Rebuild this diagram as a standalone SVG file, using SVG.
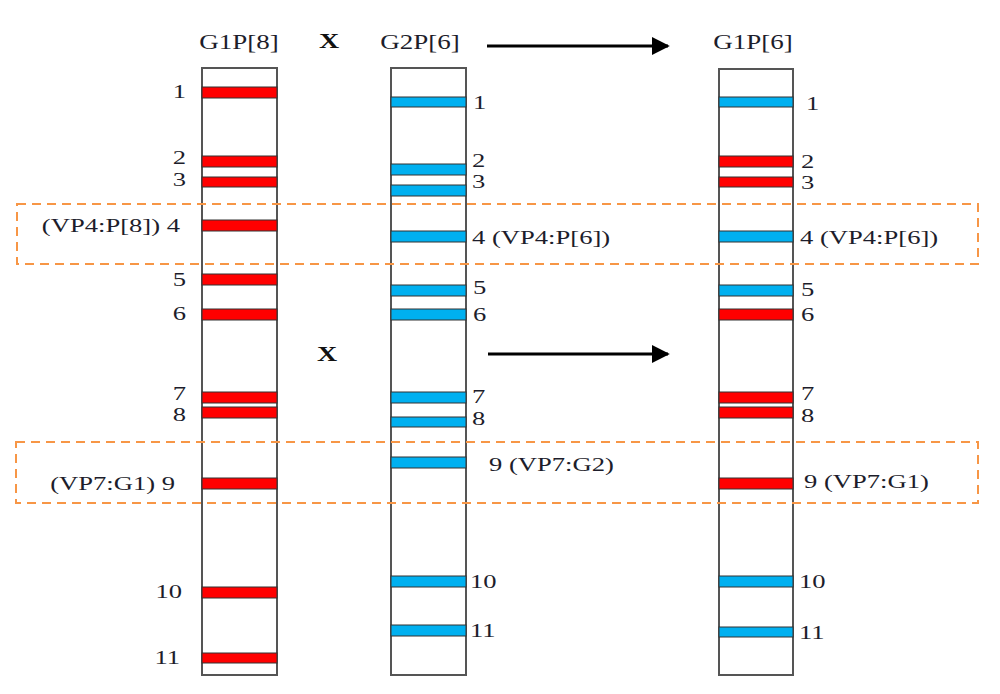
<svg xmlns="http://www.w3.org/2000/svg" width="1000" height="694" viewBox="0 0 1000 694">
<defs>
<style>
.t{font-family:"Liberation Serif","Times New Roman",serif;font-size:19px;fill:#1d1d2b}
.h{font-family:"Liberation Serif","Times New Roman",serif;font-size:20px;fill:#1d1d2b}
.x{font-family:"Liberation Serif","Times New Roman",serif;font-size:20px;font-weight:bold;fill:#111}
.e{text-anchor:end}
.m{text-anchor:middle}
.col{fill:#fff;stroke:#555;stroke-width:2}
.r{fill:#ff0000;stroke:#333;stroke-width:1}
.b{fill:#00b0f0;stroke:#333;stroke-width:1}
.d{fill:none;stroke:#f79646;stroke-width:2;stroke-dasharray:9,6}
.a{stroke:#000;stroke-width:3;fill:none}
</style>
<marker id="ah" viewBox="0 0 10 10" refX="9" refY="5" markerWidth="6" markerHeight="6" markerUnits="strokeWidth" orient="auto"><path d="M0,0 L10,5 L0,10 z" fill="#000"/></marker>
</defs>
<g id="col1">
<rect class="col" x="202" y="68" width="75" height="607"/>
<rect class="r" x="202" y="87" width="75" height="11"/>
<rect class="r" x="202" y="156" width="75" height="11"/>
<rect class="r" x="202" y="177" width="75" height="10"/>
<rect class="r" x="202" y="220" width="75" height="11"/>
<rect class="r" x="202" y="274" width="75" height="11"/>
<rect class="r" x="202" y="309" width="75" height="11"/>
<rect class="r" x="202" y="392" width="75" height="11"/>
<rect class="r" x="202" y="407" width="75" height="11"/>
<rect class="r" x="202" y="478" width="75" height="11"/>
<rect class="r" x="202" y="587" width="75" height="11"/>
<rect class="r" x="202" y="653" width="75" height="10"/>
<text class="t e" transform="translate(186 98) scale(1.4 1)">1</text>
<text class="t e" transform="translate(186 164) scale(1.4 1)">2</text>
<text class="t e" transform="translate(186 186) scale(1.4 1)">3</text>
<text class="t e" transform="translate(180 232) scale(1.4 1)">(VP4:P[8]) 4</text>
<text class="t e" transform="translate(186 286) scale(1.4 1)">5</text>
<text class="t e" transform="translate(186 320) scale(1.4 1)">6</text>
<text class="t e" transform="translate(186 400) scale(1.4 1)">7</text>
<text class="t e" transform="translate(186 421) scale(1.4 1)">8</text>
<text class="t e" transform="translate(175 490) scale(1.4 1)">(VP7:G1)  9</text>
<text class="t e" transform="translate(182 598) scale(1.4 1)">10</text>
<text class="t e" transform="translate(180 664) scale(1.4 1)">11</text>
<text class="h m" transform="translate(239 49) scale(1.35 1)">G1P[8]</text>
</g>
<g id="col2">
<rect class="col" x="391" y="68" width="75" height="607"/>
<rect class="b" x="391" y="97" width="75" height="10"/>
<rect class="b" x="391" y="164" width="75" height="11"/>
<rect class="b" x="391" y="185" width="75" height="11"/>
<rect class="b" x="391" y="231" width="75" height="11"/>
<rect class="b" x="391" y="285" width="75" height="11"/>
<rect class="b" x="391" y="309" width="75" height="11"/>
<rect class="b" x="391" y="392" width="75" height="11"/>
<rect class="b" x="391" y="417" width="75" height="10"/>
<rect class="b" x="391" y="457" width="75" height="11"/>
<rect class="b" x="391" y="576" width="75" height="11"/>
<rect class="b" x="391" y="625" width="75" height="11"/>
<text class="t" transform="translate(473 109) scale(1.4 1)">1</text>
<text class="t" transform="translate(472 167) scale(1.4 1)">2</text>
<text class="t" transform="translate(472 188) scale(1.4 1)">3</text>
<text class="t" transform="translate(472 244) scale(1.4 1)">4 (VP4:P[6])</text>
<text class="t" transform="translate(473 294) scale(1.4 1)">5</text>
<text class="t" transform="translate(473 321) scale(1.4 1)">6</text>
<text class="t" transform="translate(472 403) scale(1.4 1)">7</text>
<text class="t" transform="translate(472 425) scale(1.4 1)">8</text>
<text class="t" transform="translate(489 471) scale(1.4 1)">9 (VP7:G2)</text>
<text class="t" transform="translate(470 588) scale(1.4 1)">10</text>
<text class="t" transform="translate(470 637) scale(1.4 1)">11</text>
<text class="h m" transform="translate(420 49) scale(1.35 1)">G2P[6]</text>
</g>
<g id="col3">
<rect class="col" x="719" y="69" width="74" height="606"/>
<rect class="b" x="719" y="97" width="74" height="10"/>
<rect class="r" x="719" y="156" width="74" height="11"/>
<rect class="r" x="719" y="177" width="74" height="10"/>
<rect class="b" x="719" y="231" width="74" height="11"/>
<rect class="b" x="719" y="285" width="74" height="11"/>
<rect class="r" x="719" y="309" width="74" height="11"/>
<rect class="r" x="719" y="392" width="74" height="11"/>
<rect class="r" x="719" y="407" width="74" height="11"/>
<rect class="r" x="719" y="478" width="74" height="11"/>
<rect class="b" x="719" y="576" width="74" height="11"/>
<rect class="b" x="719" y="627" width="74" height="10"/>
<text class="t" transform="translate(806 110) scale(1.4 1)">1</text>
<text class="t" transform="translate(801 168) scale(1.4 1)">2</text>
<text class="t" transform="translate(801 189) scale(1.4 1)">3</text>
<text class="t" transform="translate(800 244) scale(1.4 1)">4 (VP4:P[6])</text>
<text class="t" transform="translate(801 296) scale(1.4 1)">5</text>
<text class="t" transform="translate(801 321) scale(1.4 1)">6</text>
<text class="t" transform="translate(801 400) scale(1.4 1)">7</text>
<text class="t" transform="translate(801 422) scale(1.4 1)">8</text>
<text class="t" transform="translate(804 488) scale(1.4 1)">9 (VP7:G1)</text>
<text class="t" transform="translate(799 588) scale(1.4 1)">10</text>
<text class="t" transform="translate(799 639) scale(1.4 1)">11</text>
<text class="h m" transform="translate(753 49) scale(1.35 1)">G1P[6]</text>
</g>
<g id="regions">
<rect class="d" x="17" y="204" width="961" height="60"/>
<rect class="d" x="16" y="442" width="962" height="61"/>
</g>
<g id="connectors">
<line class="a" x1="487" y1="46" x2="668" y2="46" marker-end="url(#ah)"/>
<line class="a" x1="488" y1="354" x2="668" y2="354" marker-end="url(#ah)"/>
</g>
<text class="x m" transform="translate(329 48) scale(1.4 1)">X</text>
<text class="x m" transform="translate(327 361) scale(1.4 1)">X</text>
</svg>
